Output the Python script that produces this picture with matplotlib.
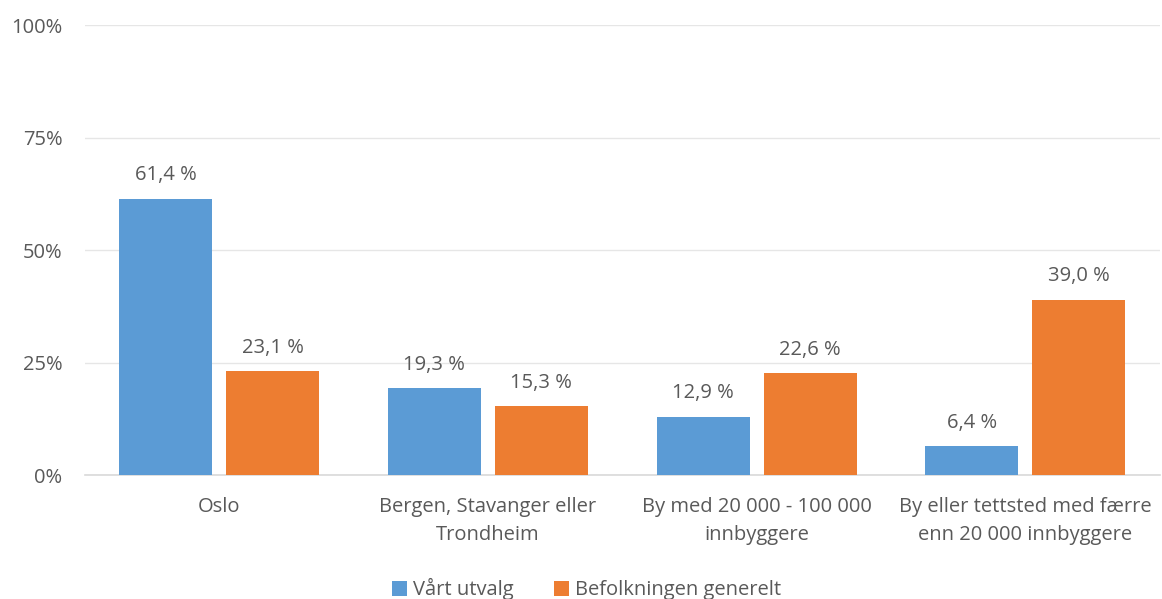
import numpy as np
import matplotlib.pyplot as plt

categories = ["Oslo", "Bergen, Stavanger eller\nTrondheim",
              "By med 20 000 - 100 000\ninnbyggere",
              "By eller tettsted med færre\nenn 20 000 innbyggere"]
utvalg = [61.4, 19.3, 12.9, 6.4]
befolkning = [23.1, 15.3, 22.6, 39.0]
series_names = ["Vårt utvalg", "Befolkningen generelt"]

plt.rcParams['font.family'] = ['Open Sans', 'DejaVu Sans']
txt = '#595959'
fs = 14.5

fig = plt.figure(figsize=(11.62, 5.99), dpi=100)
ax = fig.add_axes([0.073, 0.207, 0.925, 0.751])

x = np.arange(len(categories))
w = 0.346
off = 0.199
b1 = ax.bar(x - off, utvalg, w, color='#5B9BD5', label=series_names[0], zorder=3)
b2 = ax.bar(x + off, befolkning, w, color='#ED7D31', label=series_names[1], zorder=3)

for bars in (b1, b2):
    for r in bars:
        v = r.get_height()
        ax.text(r.get_x() + r.get_width() / 2, v + 3.0,
                f"{v:.1f} %".replace('.', ','), ha='center', va='bottom',
                fontsize=fs, color=txt)

ax.set_xlim(-0.5, len(categories) - 0.5)
ax.set_ylim(0, 100)
ax.set_yticks([0, 25, 50, 75, 100])
ax.set_yticklabels(['0%', '25%', '50%', '75%', '100%'])
ax.set_xticks(x)
ax.set_xticklabels(categories, linespacing=1.5)
ax.tick_params(axis='both', length=0, labelsize=fs, colors=txt)
ax.tick_params(axis='x', pad=16)
ax.tick_params(axis='y', pad=16)
ax.grid(axis='y', color='#E6E6E6', linewidth=1, zorder=0)
for s in ('top', 'right', 'left'):
    ax.spines[s].set_visible(False)
ax.spines['bottom'].set_color('#D9D9D9')
ax.spines['bottom'].set_linewidth(1.2)

leg = fig.legend(handles=[b1, b2], loc='center', bbox_to_anchor=(0.505, 0.016),
                 ncol=2, frameon=False, fontsize=fs, handlelength=0.75,
                 handleheight=0.75, handletextpad=0.3, columnspacing=2.0)
for t in leg.get_texts():
    t.set_color(txt)

fig.savefig('out.png', dpi=100)
